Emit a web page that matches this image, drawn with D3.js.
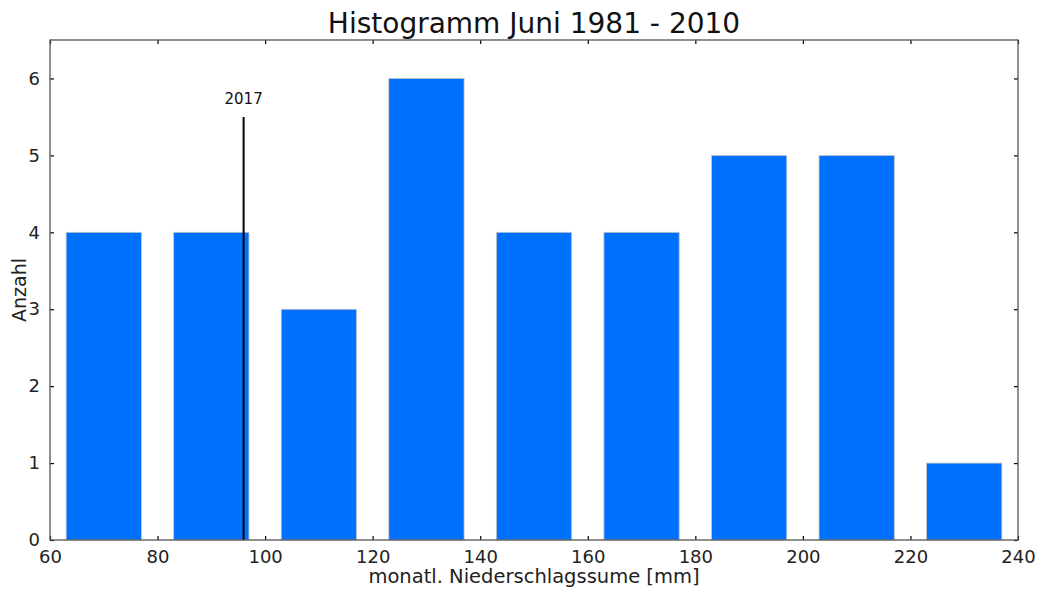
<!DOCTYPE html>
<html><head><meta charset="utf-8">
<script src="https://cdn.jsdelivr.net/npm/d3@7"></script>
<style>body{margin:0;background:#fff;} text{font-family:"DejaVu Sans",sans-serif;}</style>
</head><body>
<svg id="c" width="1041" height="591"></svg>
<script>
const binStarts = [60, 80, 100, 120, 140, 160, 180, 200, 220];
const binWidth = 20;
const counts = [4, 4, 3, 6, 4, 4, 5, 5, 1];
const xTicks = [60, 80, 100, 120, 140, 160, 180, 200, 220, 240];
const yTicks = [0, 1, 2, 3, 4, 5, 6];
const markerValue = 96;
const markerHeight = 5.5;
const markerLabel = "2017";
const title = "Histogramm Juni 1981 - 2010";
const xLabel = "monatl. Niederschlagssume [mm]";
const yLabel = "Anzahl";
const rwidth = 0.7;

const svg = d3.select("#c");
const m = {l:50, r:1018, t:40, b:540};
const x = d3.scaleLinear().domain([60,240]).range([m.l, m.r]);
const y = d3.scaleLinear().domain([0,6.5]).range([m.b, m.t]);

// bars
svg.append("g").selectAll("rect").data(binStarts).join("rect")
  .attr("x", (d)=> x(d + binWidth*(1-rwidth)/2))
  .attr("width", (d)=> x(d + binWidth*(1+rwidth)/2) - x(d + binWidth*(1-rwidth)/2))
  .attr("y", (d,i)=> y(counts[i]))
  .attr("height", (d,i)=> y(0)-y(counts[i]))
  .attr("fill", "#0070ff")
  .attr("stroke", "#c8c8c8").attr("stroke-width", 0.8);

// marker
svg.append("line").attr("x1", x(markerValue)).attr("x2", x(markerValue))
  .attr("y1", y(0)).attr("y2", y(markerHeight)).attr("stroke", "#000").attr("stroke-width", 2);
svg.append("text").attr("x", x(markerValue)).attr("y", y(markerHeight)-13)
  .attr("text-anchor","middle").attr("font-size", 15).attr("fill","#111").text(markerLabel);

// axes (ticks inside)
const tickLen = 4;
const axB = svg.append("g").attr("transform", `translate(0,${m.b})`)
  .call(d3.axisBottom(x).tickValues(xTicks).tickSizeInner(-tickLen).tickSizeOuter(0).tickPadding(10).tickFormat(d3.format("d")));
const axT = svg.append("g").attr("transform", `translate(0,${m.t})`)
  .call(d3.axisTop(x).tickValues(xTicks).tickSizeInner(-tickLen).tickSizeOuter(0).tickFormat(""));
const axL = svg.append("g").attr("transform", `translate(${m.l},0)`)
  .call(d3.axisLeft(y).tickValues(yTicks).tickSizeInner(-tickLen).tickSizeOuter(0).tickPadding(10).tickFormat(d3.format("d")));
const axR = svg.append("g").attr("transform", `translate(${m.r},0)`)
  .call(d3.axisRight(y).tickValues(yTicks).tickSizeInner(-tickLen).tickSizeOuter(0).tickFormat(""));
[axB, axT, axL, axR].forEach(a=>{
  a.select(".domain").remove();
  a.selectAll(".tick line").attr("stroke","#000").attr("stroke-width",1.2);
  a.selectAll(".tick text").attr("font-size",18).attr("fill","#222").attr("font-family","DejaVu Sans, sans-serif");
});
svg.append("rect").attr("x", m.l).attr("y", m.t).attr("width", m.r-m.l).attr("height", m.b-m.t)
  .attr("fill","none").attr("stroke","#555").attr("stroke-width",1.3);

// labels
svg.append("text").attr("x", (m.l+m.r)/2).attr("y", 33).attr("text-anchor","middle")
  .attr("font-size", 28).attr("fill","#111").text(title);
svg.append("text").attr("x", (m.l+m.r)/2).attr("y", 583).attr("text-anchor","middle")
  .attr("font-size", 19.5).attr("fill","#222").text(xLabel);
svg.append("text").attr("transform", `translate(26,${(m.t+m.b)/2}) rotate(-90)`).attr("text-anchor","middle")
  .attr("font-size", 19).attr("fill","#222").text(yLabel);
</script>
</body></html>
